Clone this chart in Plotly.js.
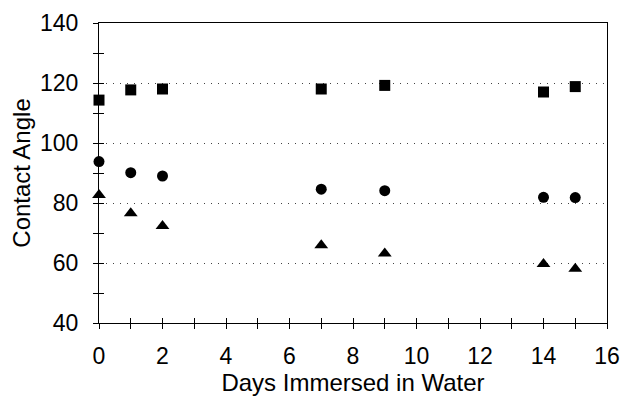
<!DOCTYPE html>
<html>
<head>
<meta charset="utf-8">
<script src="https://cdn.plot.ly/plotly-3.0.1.min.js"></script>
<style>html,body{margin:0;padding:0;background:#fff;}#chart{width:621px;height:397px;}</style>
</head>
<body>
<div id="chart"></div>
<script>
const days = [0, 1, 2, 7, 9, 14, 15];
const squareSeries = [114.3, 117.7, 118.0, 118.0, 119.2, 117.0, 118.8];
const circleSeries = [93.8, 90.1, 89.0, 84.6, 84.1, 81.9, 81.8];
const triangleSeries = [82.7, 76.6, 72.3, 65.9, 63.2, 59.7, 58.1];
const xTickVals = [0, 2, 4, 6, 8, 10, 12, 14, 16];
const yTickVals = [40, 60, 80, 100, 120, 140];

const mk = (sym, size) => ({symbol: sym, size: size, color: '#000'});
const traces = [
  {x: days, y: squareSeries, mode: 'markers', type: 'scatter', marker: mk('square', 11), showlegend: false, cliponaxis: false},
  {x: days, y: circleSeries, mode: 'markers', type: 'scatter', marker: mk('circle', 11), showlegend: false, cliponaxis: false},
  {x: days, y: triangleSeries, mode: 'markers', type: 'scatter', marker: mk('triangle-up', 12), showlegend: false, cliponaxis: false},
  {x: [], y: [], xaxis: 'x2', yaxis: 'y2', mode: 'markers', type: 'scatter', showlegend: false}
];

const font = {family: '"Liberation Sans", Arial, sans-serif', size: 23, color: '#000'};
const titleFont = {family: '"Liberation Sans", Arial, sans-serif', size: 24, color: '#000'};
const layout = {
  width: 621, height: 397,
  margin: {l: 99, r: 14, t: 23, b: 74},
  paper_bgcolor: '#fff', plot_bgcolor: '#fff',
  font: font,
  showlegend: false,
  xaxis: {
    range: [0, 16], tickvals: xTickVals, ticks: 'outside', ticklen: 5, tickwidth: 1, tickcolor: '#000',
    minor: {dtick: 1, ticks: 'outside', ticklen: 5, tickcolor: '#000', showgrid: false},
    showline: true, linecolor: '#000', linewidth: 1, mirror: true, showgrid: false, zeroline: false,
    ticklabelstandoff: 7, tickfont: font,
    title: {text: 'Days Immersed in Water', font: titleFont, standoff: 1}
  },
  yaxis: {
    range: [40, 140], tickvals: yTickVals, ticks: 'outside', ticklen: 5, tickwidth: 1, tickcolor: '#000',
    minor: {dtick: 10, tick0: 40, ticks: 'outside', ticklen: 5, tickcolor: '#000', showgrid: false},
    showline: true, linecolor: '#000', linewidth: 1, mirror: true, zeroline: false,
    showgrid: true, gridcolor: '#444', gridwidth: 1, griddash: '1px,6px',
    ticklabelstandoff: 10, tickfont: font,
    title: {text: 'Contact Angle', font: titleFont, standoff: 2}
  },
  xaxis2: {
    overlaying: 'x', anchor: 'y2', range: [0, 16], tickvals: xTickVals, ticks: 'inside', ticklen: 5, tickcolor: '#000',
    minor: {dtick: 1, ticks: 'inside', ticklen: 5, tickcolor: '#000'},
    showticklabels: false, showgrid: false, zeroline: false, showline: false
  },
  yaxis2: {
    overlaying: 'y', anchor: 'x2', range: [40, 140], tickvals: yTickVals, ticks: 'inside', ticklen: 5, tickcolor: '#000',
    minor: {dtick: 10, tick0: 40, ticks: 'inside', ticklen: 5, tickcolor: '#000'},
    showticklabels: false, showgrid: false, zeroline: false, showline: false
  }
};
Plotly.newPlot('chart', traces, layout, {displayModeBar: false, staticPlot: true});
</script>
</body>
</html>
